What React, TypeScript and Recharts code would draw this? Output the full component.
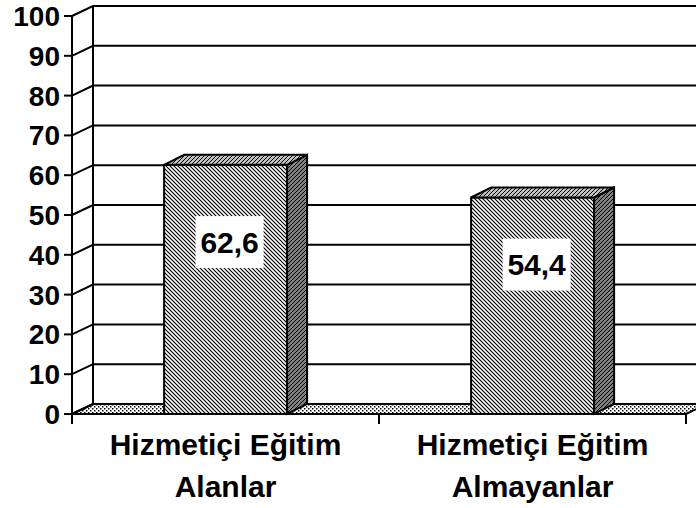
import React from 'react';
import { BarChart, Bar, XAxis, YAxis, CartesianGrid, LabelList } from 'recharts';

const categories = ['Hizmetiçi Eğitim\nAlanlar', 'Hizmetiçi Eğitim\nAlmayanlar'];
const values = [62.6, 54.4];
const yTicks = [0, 10, 20, 30, 40, 50, 60, 70, 80, 90, 100];

const data = categories.map((name, i) => ({ name, value: values[i] }));

const W = 696;
const H = 508;
const MARGIN = { top: 16, right: 10, bottom: 4, left: 0 };
const X_AXIS_H = 90;
const Y_AXIS_W = 72;
const PLOT_TOP = MARGIN.top;
const PLOT_BOTTOM = H - MARGIN.bottom - X_AXIS_H;
const PLOT_W = W - MARGIN.left - MARGIN.right - Y_AXIS_W;
const DX = 21;
const DY = 10;
const FONT = '"Liberation Sans", Arial, Helvetica, sans-serif';

// grid line + left wall diagonal + back wall line; floor on the zero line
const gridLine = (props: any) => {
  const { x1, x2, y1 } = props;
  const y = y1;
  const isFloor = Math.abs(y - PLOT_BOTTOM) < 1;
  const isTop = Math.abs(y - PLOT_TOP) < 1;
  return (
    <g key={props.key}>
      {isFloor && (
        <polygon
          points={`${x1},${y} ${x1 + DX},${y - DY} ${x2 + DX},${y - DY} ${x2},${y}`}
          fill="url(#floorDots)"
          stroke="#000"
          strokeWidth={2}
        />
      )}
      {isTop && (
        <line x1={x1 + DX} y1={y - DY} x2={x1 + DX} y2={PLOT_BOTTOM - DY} stroke="#000" strokeWidth={2} />
      )}
      <path d={`M${x1},${y} L${x1 + DX},${y - DY} L${x2 + DX},${y - DY}`} fill="none" stroke="#000" strokeWidth={2} />
    </g>
  );
};

const Bar3D = (props: any) => {
  const { x, y, width: w, height: h } = props;
  if (w == null || h == null) return null;
  const d = 20;
  return (
    <g>
      <rect x={x} y={y} width={w} height={h} fill="url(#frontHatch)" stroke="#000" strokeWidth={2} />
      <polygon
        points={`${x + w},${y} ${x + w + d},${y - DY} ${x + w + d},${y + h - DY} ${x + w},${y + h}`}
        fill="url(#sideHatch)"
        stroke="#000"
        strokeWidth={2}
      />
      <polygon
        points={`${x},${y} ${x + d},${y - DY} ${x + w + d},${y - DY} ${x + w},${y}`}
        fill="url(#topHatch)"
        stroke="#000"
        strokeWidth={2}
      />
    </g>
  );
};

const ValueLabel = (props: any) => {
  const { x, y, width, height, value } = props;
  const cx = x + width / 2 + 4;
  const cy = y + height * 0.31;
  const text = String(value).replace('.', ',');
  return (
    <g>
      <rect x={cx - 34} y={cy - 26} width={68} height={52} fill="#fff" />
      <text x={cx} y={cy} textAnchor="middle" dominantBaseline="central" fontFamily={FONT} fontWeight="bold" fontSize={30} fill="#000">
        {text}
      </text>
    </g>
  );
};

const CategoryTick = (props: any) => {
  const { x, payload, index } = props;
  const half = payload && payload.offset > 0 ? payload.offset : PLOT_W / categories.length / 2;
  const lines = String(payload.value).split('\n');
  return (
    <g>
      <line x1={x - half} y1={PLOT_BOTTOM} x2={x - half} y2={PLOT_BOTTOM + 10} stroke="#000" strokeWidth={2} />
      {index === categories.length - 1 && (
        <line x1={x + half} y1={PLOT_BOTTOM} x2={x + half} y2={PLOT_BOTTOM + 10} stroke="#000" strokeWidth={2} />
      )}
      {lines.map((t, i) => (
        <text key={i} x={x} y={PLOT_BOTTOM + 41 + i * 42} textAnchor="middle" fontFamily={FONT} fontWeight="bold" fontSize={30} fill="#000">
          {t}
        </text>
      ))}
    </g>
  );
};

export default function App() {
  return (
    <div style={{ position: 'absolute', left: 0, top: 0, width: W, height: H, background: '#fff' }}>
      <svg width={0} height={0} style={{ position: 'absolute' }}>
        <defs>
          <pattern id="frontHatch" patternUnits="userSpaceOnUse" width={4} height={4}>
            <rect width={4} height={4} fill="#fff" />
            <path d="M-1,-1 L5,5 M-1,3 L1,5 M3,-1 L5,1" stroke="#000" strokeWidth={1.2} />
          </pattern>
          <pattern id="topHatch" patternUnits="userSpaceOnUse" width={4} height={4}>
            <rect width={4} height={4} fill="#c0c0c0" />
            <path d="M-1,5 L5,-1 M-1,1 L1,-1 M3,5 L5,3" stroke="#000" strokeWidth={1} />
          </pattern>
          <pattern id="sideHatch" patternUnits="userSpaceOnUse" width={4} height={4}>
            <rect width={4} height={4} fill="#808080" />
            <path d="M-1,5 L5,-1 M-1,1 L1,-1 M3,5 L5,3" stroke="#000" strokeWidth={1} />
          </pattern>
          <pattern id="floorDots" patternUnits="userSpaceOnUse" width={4} height={4}>
            <rect width={4} height={4} fill="#fff" />
            <rect x={0} y={0} width={1.5} height={1.5} fill="#000" />
            <rect x={2} y={2} width={1.5} height={1.5} fill="#000" />
          </pattern>
        </defs>
      </svg>
      <BarChart width={W} height={H} data={data} margin={MARGIN} barCategoryGap="30%">
        <CartesianGrid vertical={false} horizontal={gridLine} />
        <XAxis
          dataKey="name"
          height={X_AXIS_H}
          tickLine={false}
          axisLine={{ stroke: '#000', strokeWidth: 2 }}
          tick={<CategoryTick />}
          interval={0}
        />
        <YAxis
          width={Y_AXIS_W}
          domain={[0, 100]}
          ticks={yTicks}
          interval={0}
          tickSize={8}
          tickMargin={4}
          axisLine={{ stroke: '#000', strokeWidth: 2 }}
          tickLine={{ stroke: '#000', strokeWidth: 2 }}
          tick={{ fill: '#000', fontFamily: FONT, fontWeight: 'bold', fontSize: 28 }}
        />
        <Bar dataKey="value" shape={<Bar3D />} isAnimationActive={false}>
          <LabelList dataKey="value" content={<ValueLabel />} />
        </Bar>
      </BarChart>
    </div>
  );
}
